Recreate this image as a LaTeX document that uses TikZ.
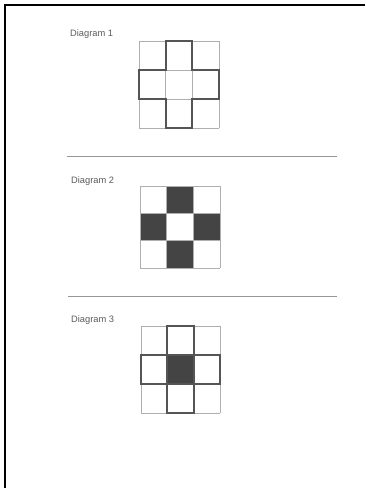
\documentclass[tikz,border=0pt]{standalone}
\usepackage{fontspec}
\setmainfont{Liberation Sans}
\usetikzlibrary{positioning}
\definecolor{gridline}{RGB}{175,175,175}
\definecolor{heavyline}{RGB}{85,85,85}
\definecolor{cellfill}{RGB}{68,68,68}
\definecolor{labeltext}{RGB}{90,90,90}
\definecolor{ruleline}{RGB}{150,150,150}

\begin{document}
\begin{tikzpicture}[
  x=1pt, y=-1pt,
  font=\fontsize{9.3}{11}\selectfont,
  label/.style={text=labeltext, anchor=base west, inner sep=0pt},
  thin grid/.style={draw=gridline, line width=0.8pt},
  heavy/.style={draw=heavyline, line width=2pt, line join=miter},
  dark/.style={fill=cellfill},
  sep/.style={draw=ruleline, line width=0.8pt}
]
\useasboundingbox (0,0) rectangle (365,488);
\draw[line width=1.6pt] (365,5) -- (4.8,5) -- (4.8,488);

% Diagram 1: plus outline
\node[label] (lab1) at (70,36) {Diagram 1};
\begin{scope}[shift={(139,41)}, x=26.67pt, y=-29pt]
  \foreach \i in {0,...,3} {
    \draw[thin grid] (\i,0) -- (\i,3);
    \draw[thin grid] (0,\i) -- (3,\i);
  }
  \draw[heavy] (1,0) -- (2,0) -- (2,1) -- (3,1) -- (3,2) -- (2,2) -- (2,3)
    -- (1,3) -- (1,2) -- (0,2) -- (0,1) -- (1,1) -- cycle;
\end{scope}
\draw[sep] (67,156) -- (337,156);

% Diagram 2: filled arms
\node[label] (lab2) at (71,183) {Diagram 2};
\begin{scope}[shift={(140,186)}, x=26.67pt, y=-27.33pt]
  \fill[dark] (1,0) rectangle (2,1);
  \fill[dark] (0,1) rectangle (1,2);
  \fill[dark] (2,1) rectangle (3,2);
  \fill[dark] (1,2) rectangle (2,3);
  \foreach \i in {0,...,3} {
    \draw[thin grid] (\i,0) -- (\i,3);
    \draw[thin grid] (0,\i) -- (3,\i);
  }
\end{scope}
\draw[sep] (68,296) -- (337,296);

% Diagram 3: outlined arms, filled centre
\node[label] (lab3) at (71,322) {Diagram 3};
\begin{scope}[shift={(141,326)}, x=26.33pt, y=-29pt]
  \fill[dark] (1,1) rectangle (2,2);
  \foreach \i in {0,...,3} {
    \draw[thin grid] (\i,0) -- (\i,3);
    \draw[thin grid] (0,\i) -- (3,\i);
  }
  \draw[heavy] (1,0) rectangle (2,1);
  \draw[heavy] (0,1) rectangle (1,2);
  \draw[heavy] (2,1) rectangle (3,2);
  \draw[heavy] (1,2) rectangle (2,3);
\end{scope}
\end{tikzpicture}
\end{document}
